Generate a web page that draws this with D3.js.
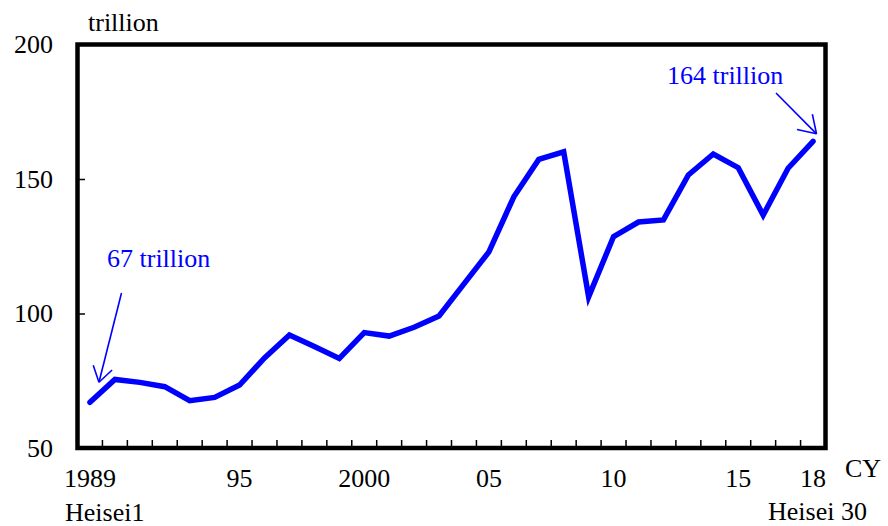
<!DOCTYPE html>
<html>
<head>
<meta charset="utf-8">
<script src="https://cdn.jsdelivr.net/npm/d3@7"></script>
<style>
  html, body { margin: 0; padding: 0; background: #fff; }
  svg { display: block; }
  text { font-family: "Liberation Serif", "Times New Roman", serif; }
</style>
</head>
<body>
<svg id="chart" width="888" height="526"></svg>
<script>
// Calendar years and annual values (trillion)
const years = d3.range(1989, 2019);
const values = [
  67, 75.5, 74.4, 72.8, 67.6, 68.8, 73.4, 83.5, 92, 87.7,
  83.3, 92.9, 91.6, 94.9, 99.1, 111, 122.9, 143.4, 157.3, 160.1,
  106.2, 128.6, 134, 134.8, 151.5, 159.3, 154.2, 136.6, 154, 164
];
const yTicks = [50, 100, 150, 200];
const xLabelYears = [1989, 1995, 2000, 2005, 2010, 2015, 2018];
const xLabelText = ["1989", "95", "2000", "05", "10", "15", "18"];
const annotations = [
  { year: 1989, value: 67, text: "67 trillion" },
  { year: 2018, value: 164, text: "164 trillion" }
];

const svg = d3.select("#chart");
const plotLeft = 77.5, plotRight = 825.5, plotTop = 44.5, plotBottom = 448;
const blue = "#0000ff";

const x = d3.scaleBand().domain(years).range([plotLeft, plotRight]).paddingInner(0).paddingOuter(0);
const cx = yr => x(yr) + x.bandwidth() / 2;
const y = d3.scaleLinear().domain([50, 200]).range([plotBottom, plotTop]);

// Y axis labels with inward ticks
const yAxis = svg.append("g")
  .attr("transform", `translate(${plotLeft},0)`)
  .call(d3.axisLeft(y).tickValues(yTicks).tickSize(-7.5).tickPadding(24.5).tickFormat(d3.format("d")));
yAxis.select(".domain").remove();
yAxis.selectAll("line").attr("stroke", "#000").attr("stroke-width", 1.5);
yAxis.selectAll("text").attr("font-size", 26).attr("fill", "#000")
  .attr("font-family", "Liberation Serif, Times New Roman, serif");

// X axis: ticks on the boundaries between years, pointing up
svg.append("g").selectAll("line")
  .data(years.slice(1))
  .join("line")
  .attr("x1", d => x(d)).attr("x2", d => x(d))
  .attr("y1", plotBottom).attr("y2", plotBottom - 8)
  .attr("stroke", "#000").attr("stroke-width", 1.5);

svg.append("g").selectAll("text")
  .data(xLabelYears)
  .join("text")
  .attr("x", d => cx(d)).attr("y", 487)
  .attr("text-anchor", "middle").attr("font-size", 26)
  .text((d, i) => xLabelText[i]);

// Plot frame
svg.append("rect")
  .attr("x", plotLeft).attr("y", plotTop)
  .attr("width", plotRight - plotLeft).attr("height", plotBottom - plotTop)
  .attr("fill", "none").attr("stroke", "#000").attr("stroke-width", 4.5);

// Series line
const line = d3.line()
  .x((d, i) => cx(years[i]))
  .y(d => y(d));
svg.append("path")
  .datum(values)
  .attr("d", line)
  .attr("fill", "none")
  .attr("stroke", blue)
  .attr("stroke-width", 5.5)
  .attr("stroke-linejoin", "miter")
  .attr("stroke-linecap", "round");

// Unit and axis captions
svg.append("text").attr("x", 88).attr("y", 31).attr("font-size", 26).text("trillion");
svg.append("text").attr("x", 845).attr("y", 477).attr("font-size", 26).text("CY");
svg.append("text").attr("x", 65).attr("y", 521).attr("font-size", 26).text("Heisei1");
svg.append("text").attr("x", 768).attr("y", 520).attr("font-size", 26).text("Heisei 30");

// Value annotations with open arrowheads
function arrow(x1, y1, x2, y2, size) {
  const g = svg.append("g").attr("stroke", blue).attr("stroke-width", 1.6).attr("fill", "none");
  g.append("line").attr("x1", x1).attr("y1", y1).attr("x2", x2).attr("y2", y2);
  const ang = Math.atan2(y2 - y1, x2 - x1);
  const spread = Math.PI / 5.5;
  [ang + Math.PI - spread, ang + Math.PI + spread].forEach(a => {
    g.append("line").attr("x1", x2).attr("y1", y2)
      .attr("x2", x2 + size * Math.cos(a)).attr("y2", y2 + size * Math.sin(a));
  });
}

const a0 = annotations[0];
svg.append("text").attr("x", 107).attr("y", 267).attr("font-size", 26).attr("fill", blue).text(a0.text);
arrow(121.5, 293, cx(a0.year) + 9, y(a0.value) - 20, 18);

const a1 = annotations[1];
svg.append("text").attr("x", 667).attr("y", 84).attr("font-size", 26).attr("fill", blue).text(a1.text);
arrow(776, 93, cx(a1.year) + 3.5, y(a1.value) - 7.5, 20);
</script>
</body>
</html>
